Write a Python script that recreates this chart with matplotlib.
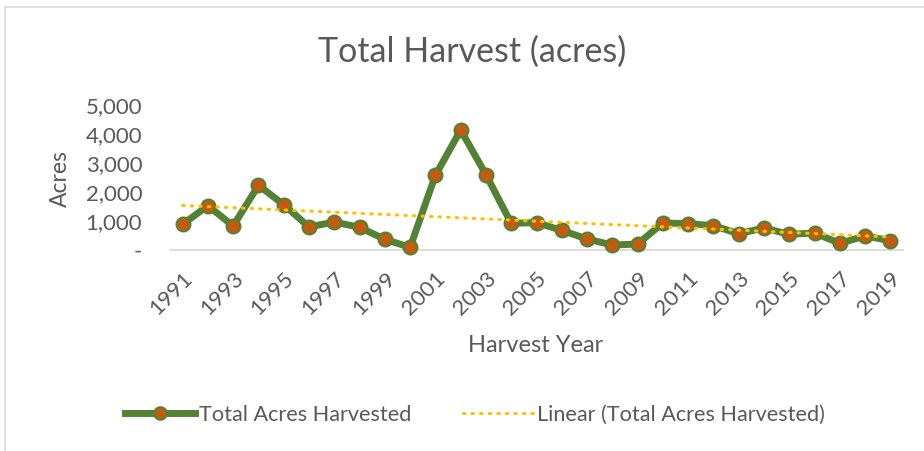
import matplotlib.pyplot as plt
import numpy as np
from matplotlib.ticker import FuncFormatter
from matplotlib.patches import Rectangle

years = list(range(1991, 2020))
acres = [886, 1528, 828, 2230, 1563, 793, 966, 782, 368, 92,
         2575, 4138, 2598, 920, 943, 678, 379, 172, 207, 931,
         908, 839, 563, 759, 540, 586, 230, 483, 322]

plt.rcParams['font.family'] = ['Lato', 'DejaVu Sans']
grey = '#595959'

fig = plt.figure(figsize=(9.24, 4.51), dpi=100)
ax = fig.add_axes([170 / 924, 1 - 250 / 451, 733 / 924, 145 / 451])

x = np.arange(len(years))
ax.plot(x, acres, color='#548235', lw=5, marker='o', ms=10,
        markerfacecolor='#C55A11', markeredgecolor='#548235', mew=1.5,
        label='Total Acres Harvested', clip_on=False, zorder=3)

# linear trend, same as Excel's trendline
k, b = np.polyfit(x, acres, 1)
ax.plot(x, k * x + b, color='#FFC000', lw=2.2, ls=(0, (0.5, 2.3)),
        dash_capstyle='round', label='Linear (Total Acres Harvested)', zorder=4)

ax.set_xlim(-0.5, len(years) - 0.5)
ax.set_ylim(0, 5000)
ax.set_yticks(range(0, 5001, 1000))
ax.yaxis.set_major_formatter(FuncFormatter(lambda v, p: '-' if v == 0 else f'{v:,.0f}'))
ax.set_xticks(x[::2])
ax.set_xticklabels([str(y) for y in years[::2]], rotation=45, ha='right',
                   rotation_mode='anchor')

for s in ['top', 'right', 'left']:
    ax.spines[s].set_visible(False)
ax.spines['bottom'].set_color('#D9D9D9')
ax.spines['bottom'].set_linewidth(1.3)
ax.tick_params(length=0, colors=grey, labelsize=16)
ax.tick_params(axis='y', pad=20)
ax.tick_params(axis='x', pad=13)

fig.text(60 / 924, 1 - 179 / 451, 'Acres', color=grey, fontsize=16.5,
         rotation=90, ha='center', va='center')
fig.text(536 / 924, 1 - 345 / 451, 'Harvest Year', color=grey, fontsize=17,
         ha='center', va='center')
fig.text(472 / 924, 1 - 52 / 451, 'Total Harvest (acres)', color=grey,
         fontsize=24.5, ha='center', va='center')

fig.legend(loc='center', bbox_to_anchor=(475 / 924, 1 - 415 / 451), ncol=2,
           frameon=False, fontsize=15.6, labelcolor=grey, handlelength=3.2,
           handletextpad=0.2, columnspacing=2.4, markerscale=0.9)

fig.patches.append(Rectangle((5 / 924, -0.1), 1.1, 1 - 7 / 451 + 0.1,
                             transform=fig.transFigure, fill=False,
                             edgecolor='#D9D9D9', lw=1.2))

fig.savefig('out.png', dpi=100)
